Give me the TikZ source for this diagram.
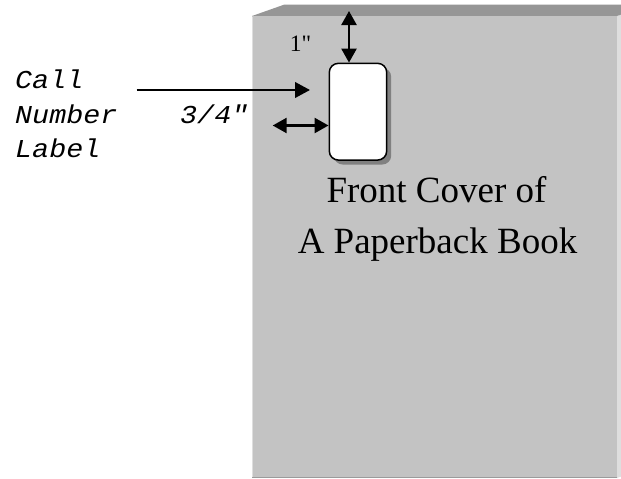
\documentclass[tikz,border=0pt]{standalone}
\usepackage{fontspec}
\setmainfont{Liberation Serif}
\newfontfamily\serifplain{Liberation Serif}
\newfontfamily\monofam{Liberation Mono}[FakeStretch=1.1]
\usetikzlibrary{arrows.meta,shadows}

\definecolor{coverfront}{HTML}{C3C3C3}
\definecolor{covertop}{HTML}{969696}
\definecolor{coverside}{HTML}{DEDEDE}
\definecolor{labelshadow}{HTML}{808080}

\tikzset{
  dimarrow/.style={line width=2.4pt, -{Triangle[length=15pt,width=15.5pt]}},
  dimboth/.style={line width=2.4pt, {Triangle[length=14pt,width=15pt]}-{Triangle[length=14pt,width=15pt]}},
  monotext/.style={inner sep=0pt, anchor=base west, font=\monofam\itshape\fontsize{25.8}{31}\selectfont},
  serifbig/.style={inner sep=0pt, anchor=base, font=\fontsize{37}{44}\selectfont},
  serifsmall/.style={inner sep=0pt, anchor=base, font=\serifplain\fontsize{23.5}{27}\selectfont},
  labelbox/.style={draw=black, line width=1.5pt, fill=white, rounded corners=9pt,
    minimum width=57.4pt, minimum height=96.7pt, inner sep=0pt,
    drop shadow={shadow xshift=4.5pt, shadow yshift=-4.5pt, fill=labelshadow, opacity=1}},
}

\begin{document}
\begin{tikzpicture}[x=1pt, y=-1pt]
  \useasboundingbox (0,0) rectangle (621,479);
  \fill[white] (0,0) rectangle (621,479);

  % the book, seen as a box: side, top and front faces
  \fill[coverside] (617,16) -- (649,4.7) -- (649,467) -- (617,478) -- cycle;
  \fill[covertop] (252,16) -- (284,4.7) -- (649,4.7) -- (617,16) -- cycle;
  \fill[coverfront] (252,16) rectangle (617,478);
  \draw[line width=1pt, coverside] (252.5,16.5) -- (252.5,477.5);
  \draw[line width=1pt, covertop!90!coverfront] (252,477.5) -- (617,477.5);

  % call number label
  \node[labelbox] (lbl) at (358,111.7) {};

  % captions
  \node[monotext] (call1) at (15,88.3) {Call};
  \node[monotext] (call2) at (15,123.3) {Number};
  \node[monotext] (call3) at (15,157) {Label};
  \node[monotext] (threeq) at (180,123.3) {3/4"};
  \node[serifsmall] (onein) at (300.5,51.7) {1"};
  \node[serifbig] (front1) at (436.5,202.7) {Front Cover of};
  \node[serifbig] (front2) at (437.5,253.3) {A Paperback Book};

  % dimension arrows
  \coordinate (topmark) at (349,11);
  \coordinate (leftmark) at (272.7,125.5);
  \coordinate (pointfrom) at (136.7,90);
  \coordinate (pointto) at (310,90);
  \draw[dimboth] (topmark) -- (topmark |- lbl.north);
  \draw[dimboth] (leftmark) -- (leftmark -| lbl.west);
  \draw[dimarrow] (pointfrom) -- (pointto);
\end{tikzpicture}
\end{document}
